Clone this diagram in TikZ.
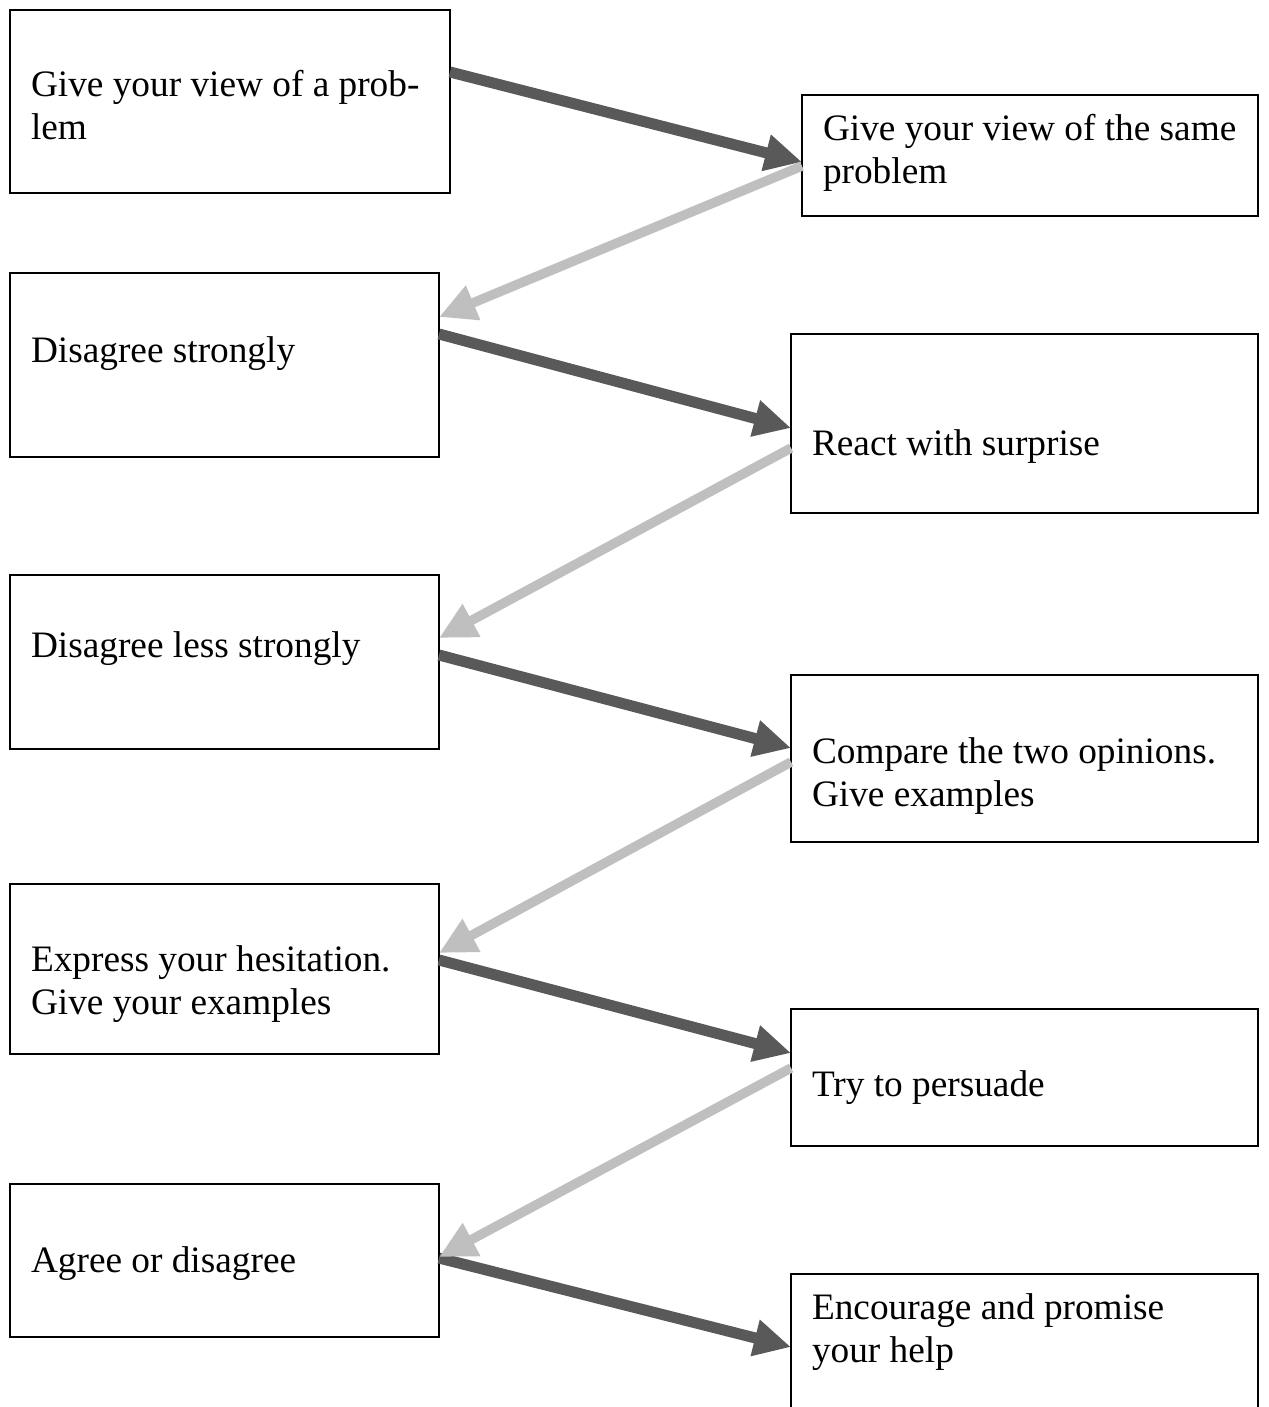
\documentclass[tikz,border=0pt]{standalone}
\usepackage{fontspec}
\setmainfont{Liberation Serif}
\usetikzlibrary{arrows.meta}
\definecolor{darkarrow}{HTML}{595959}
\definecolor{lightarrow}{HTML}{BFBFBF}
\begin{document}
\begin{tikzpicture}[x=1pt,y=-1pt,
  box/.style={draw=black, line width=2pt, inner sep=0pt, outer sep=0pt},
  txt/.style={anchor=base west, inner sep=0pt, outer sep=0pt, font=\fontsize{37.3}{43}\selectfont},
  darr/.style={draw=darkarrow, line width=11pt, -{Triangle[length=37pt,width=35pt]}},
  larr/.style={draw=lightarrow, line width=9.5pt, -{Triangle[length=37pt,width=35pt]}}]
\clip (0,0) rectangle (1268,1407);
\fill[white] (0,0) rectangle (1268,1407);
% left boxes
\node[box, minimum width=440pt, minimum height=183pt] (L1) at (230,101.5) {};
\node[box, minimum width=429pt, minimum height=184pt] (L2) at (224.5,365) {};
\node[box, minimum width=429pt, minimum height=174pt] (L3) at (224.5,662) {};
\node[box, minimum width=429pt, minimum height=170pt] (L4) at (224.5,969) {};
\node[box, minimum width=429pt, minimum height=153pt] (L5) at (224.5,1260.5) {};
% right boxes
\node[box, minimum width=456pt, minimum height=121pt] (R1) at (1030,155.5) {};
\node[box, minimum width=467pt, minimum height=179pt] (R2) at (1024.5,423.5) {};
\node[box, minimum width=467pt, minimum height=167pt] (R3) at (1024.5,758.5) {};
\node[box, minimum width=467pt, minimum height=137pt] (R4) at (1024.5,1077.5) {};
\node[box, minimum width=467pt, minimum height=156pt] (R5) at (1024.5,1352) {};
% texts
\node[txt] (tL1) at (31,97) {\begin{tabular}[t]{@{}l@{}}Give your view of a prob-\\lem\end{tabular}};
\node[txt] (tL2) at (31,362) {Disagree strongly};
\node[txt] (tL3) at (31,657) {Disagree less strongly};
\node[txt] (tL4) at (31,971) {\begin{tabular}[t]{@{}l@{}}Express your hesitation.\\Give your examples\end{tabular}};
\node[txt] (tL5) at (31,1272) {Agree or disagree};
\node[txt] (tR1) at (823,141) {\begin{tabular}[t]{@{}l@{}}Give your view of the same\\problem\end{tabular}};
\node[txt] (tR2) at (812,455) {React with surprise};
\node[txt] (tR3) at (812,763) {\begin{tabular}[t]{@{}l@{}}Compare the two opinions.\\Give examples\end{tabular}};
\node[txt] (tR4) at (812,1096) {Try to persuade};
\node[txt] (tR5) at (812,1319) {\begin{tabular}[t]{@{}l@{}}Encourage and promise\\your help\end{tabular}};
% dark arrows
\draw[darr] (L1.east |- 0,72) -- (R1.west |- 0,162);
\draw[darr] (L2.east |- 0,334) -- (R2.west |- 0,428);
\draw[darr] (L3.east |- 0,655) -- (R3.west |- 0,748);
\draw[darr] (L4.east |- 0,960) -- (R4.west |- 0,1053);
\draw[darr] (L5.east |- 0,1258) -- (R5.west |- 0,1347);
% light arrows
\draw[larr] (R1.west |- 0,166) -- (L2.east |- 0,317);
\draw[larr] (R2.west |- 0,448) -- (L3.east |- 0,638);
\draw[larr] (R3.west |- 0,762) -- (L4.east |- 0,953);
\draw[larr] (R4.west |- 0,1068) -- (L5.east |- 0,1257);
\end{tikzpicture}
\end{document}
